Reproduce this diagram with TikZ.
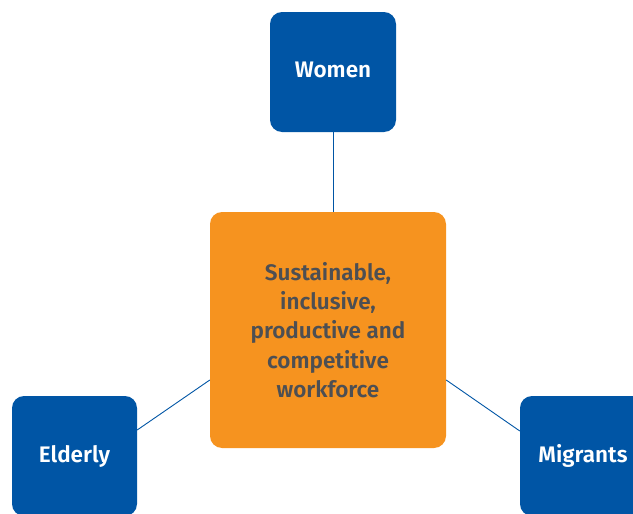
\documentclass[tikz,border=0pt]{standalone}
\usepackage{fontspec}
\setmainfont{Fira Sans}[BoldFont={Fira Sans SemiBold}]
\definecolor{boxblue}{HTML}{0055A5}
\definecolor{boxorange}{HTML}{F6931F}
\definecolor{txtgray}{HTML}{4D4F53}
\begin{document}
\begin{tikzpicture}[x=1pt,y=1pt,
  bluebox/.style={fill=boxblue, rounded corners=12pt, minimum width=126pt, minimum height=120pt, inner sep=0pt, text=white, font=\bfseries\fontsize{22.5}{27}\selectfont},
  orangebox/.style={fill=boxorange, rounded corners=12pt, minimum width=236pt, minimum height=236pt, inner sep=0pt, text=txtgray, align=center, font=\bfseries\fontsize{22.5}{29.3}\selectfont},
  link/.style={draw=boxblue, line width=0.9pt}]
\useasboundingbox (0,0) rectangle (633,-514);
\clip (0,0) rectangle (633,-514);
\node[bluebox] (women) at (333,-72) {\raisebox{5pt}{Women}};
\node[orangebox] (center) at (328,-330) {Sustainable,\\inclusive,\\productive and\\competitive\\workforce};
\node[bluebox, minimum width=125pt] (elderly) at (74.5,-456) {\raisebox{-3pt}{Elderly}};
\node[bluebox] (migrants) at (583,-456) {\raisebox{-3pt}{Migrants}};
\draw[link] (women.south) -- (women.south |- center.north);
\draw[link] ([yshift=26pt]elderly.east) -- ([yshift=-50pt]center.west);
\draw[link] ([yshift=-50pt]center.east) -- ([yshift=25pt]migrants.west);
\end{tikzpicture}
\end{document}
